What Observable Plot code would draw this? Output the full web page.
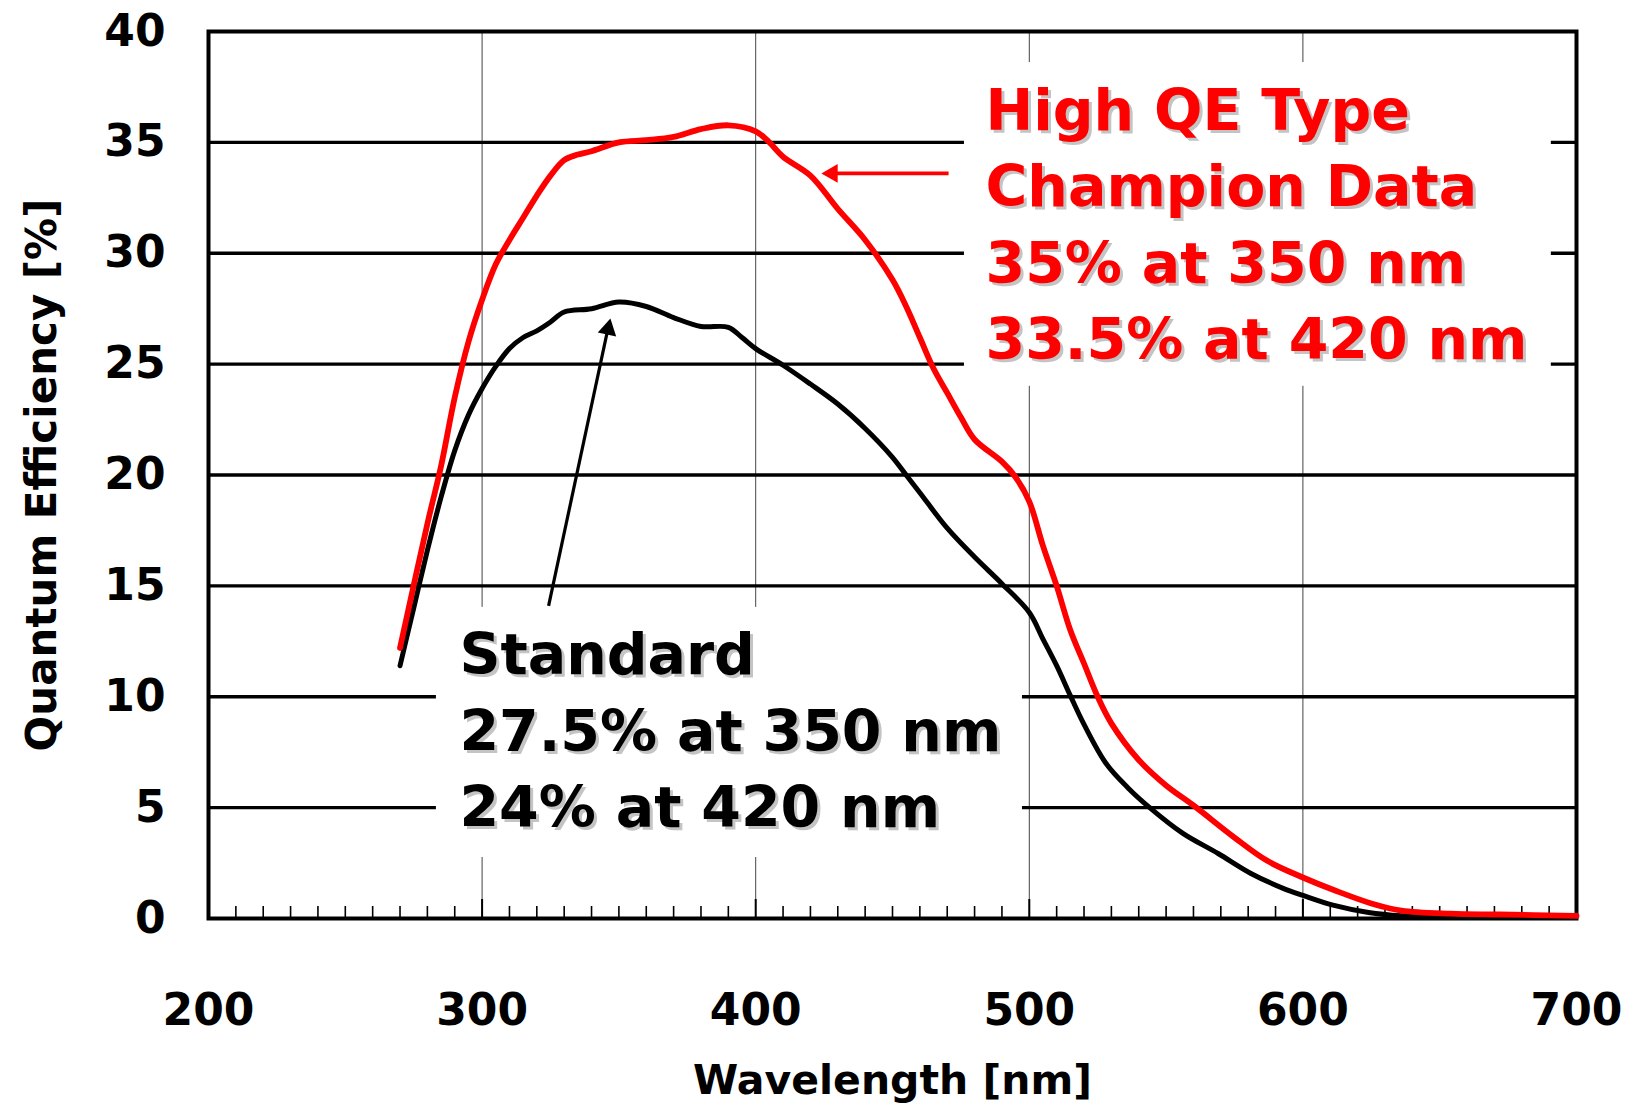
<!DOCTYPE html>
<html>
<head>
<meta charset="utf-8">
<script src="https://cdn.jsdelivr.net/npm/d3@7"></script>
<script src="https://cdn.jsdelivr.net/npm/@observablehq/plot@0.6"></script>
<style>
  body { margin: 0; background: #fff; }
  #chart svg { font-family: "DejaVu Sans", sans-serif; font-weight: bold; }
</style>
</head>
<body>
<div id="chart"></div>
<script>
// High QE Type (champion data), red curve
const hqeWavelength = [270, 280, 285, 290, 295, 300, 305, 310, 315, 320, 325, 330, 335, 340, 350, 360, 370, 380, 390, 400, 405, 410, 420, 430, 440, 450, 455, 460, 465, 470, 475, 480, 490, 495, 500, 505, 510, 515, 520, 525, 530, 540, 550, 560, 575, 587, 600, 612, 625, 636, 654, 672, 700];
const hqeQE = [12.2, 17.8, 20.4, 23.5, 26.0, 27.9, 29.5, 30.6, 31.6, 32.6, 33.5, 34.2, 34.45, 34.6, 35.0, 35.1, 35.25, 35.6, 35.77, 35.5, 35.0, 34.35, 33.5, 32.0, 30.6, 28.8, 27.6, 26.2, 24.8, 23.7, 22.6, 21.6, 20.6, 19.9, 18.8, 16.8, 15.0, 13.0, 11.5, 10.0, 8.8, 7.15, 6.0, 5.1, 3.65, 2.6, 1.85, 1.25, 0.68, 0.36, 0.22, 0.18, 0.12];

// Standard type, black curve
const stdWavelength = [270, 275, 280, 285, 290, 295, 300, 305, 310, 315, 320, 325, 330, 340, 350, 360, 370, 380, 390, 395, 400, 410, 420, 430, 440, 450, 455, 460, 470, 480, 490, 500, 505, 510, 515, 520, 528, 536, 544, 556, 569, 581, 593, 600, 611, 624, 636, 650, 680];
const stdQE = [11.4, 14.0, 16.6, 19.0, 21.1, 22.7, 23.9, 24.9, 25.7, 26.2, 26.5, 26.9, 27.35, 27.5, 27.8, 27.6, 27.1, 26.7, 26.66, 26.2, 25.7, 24.95, 24.1, 23.2, 22.1, 20.8, 20.0, 19.2, 17.6, 16.3, 15.1, 13.8, 12.6, 11.4, 10.05, 8.75, 7.0, 5.9, 5.0, 3.85, 2.93, 2.03, 1.35, 1.04, 0.6, 0.27, 0.12, 0.07, 0.04];

const xTicks = [200, 300, 400, 500, 600, 700];
const yTicks = [0, 5, 10, 15, 20, 25, 30, 35, 40];
const xGrid = [300, 400, 500, 600];
const yGrid = [5, 10, 15, 20, 25, 30, 35];
const minorTicks = d3.range(210, 700, 10).filter(d => d % 100 !== 0);

const hqeLabel = "High QE Type\nChampion Data\n35% at 350 nm\n33.5% at 420 nm";
const stdLabel = "Standard\n27.5% at 350 nm\n24% at 420 nm";
const xLabel = "Wavelength [nm]";
const yLabel = "Quantum Efficiency [%]";

const hqe = hqeWavelength.map((w, i) => ({w, qe: hqeQE[i]}));
const std = stdWavelength.map((w, i) => ({w, qe: stdQE[i]}));

// annotation backgrounds (data units)
const boxes = [
  {x1: 476.3, x2: 690.8, y1: 24.0, y2: 38.6},
  {x1: 283.3, x2: 497.5, y1: 2.75, y2: 14.03}
];
const redArrow = {x1: 470.5, y1: 33.6, x2: 426.0, y2: 33.6, tx: 424.0, ty: 33.6};
const blackArrow = {x1: 324.3, y1: 14.1, x2: 346.0, y2: 26.6, tx: 346.9, ty: 27.06};

const font = "DejaVu Sans";
const txt = {fontFamily: font, fontWeight: "bold"};
const annot = {text: d => d, textAnchor: "start", lineAnchor: "top", fontSize: 57, lineHeight: 1.34, ...txt};

const chart = Plot.plot({
  width: 1635,
  height: 1111,
  marginLeft: 208,
  marginRight: 59,
  marginTop: 31,
  marginBottom: 193,
  x: {domain: [200, 700]},
  y: {domain: [0, 40]},
  marks: [
    Plot.ruleX(xGrid, {stroke: "#444", strokeWidth: 1}),
    Plot.ruleY(yGrid, {stroke: "#000", strokeWidth: 3.4}),
    Plot.axisX({ticks: minorTicks, tickSize: -12, tickFormat: () => "", strokeWidth: 1.6, label: null}),
    Plot.axisX({ticks: xGrid, tickSize: -19, tickFormat: () => "", strokeWidth: 2, label: null}),
    Plot.rect(boxes, {x1: "x1", x2: "x2", y1: "y1", y2: "y2", fill: "white"}),
    Plot.frame({stroke: "#000", strokeWidth: 4}),
    Plot.axisY({ticks: yTicks, tickSize: 0, tickPadding: 43, fontSize: 44, ...txt, label: null}),
    Plot.axisX({ticks: xTicks, tickSize: 0, tickPadding: 75, fontSize: 44, ...txt, label: null}),
    Plot.line(std, {x: "w", y: "qe", stroke: "#000", strokeWidth: 5, curve: "catmull-rom"}),
    Plot.line(hqe, {x: "w", y: "qe", stroke: "#ff0000", strokeWidth: 5.8, curve: "catmull-rom"}),
    Plot.link([redArrow], {x1: "x1", y1: "y1", x2: "x2", y2: "y2", stroke: "#ff0000", strokeWidth: 3.6}),
    Plot.dot([redArrow], {x: "tx", y: "ty", symbol: "triangle", r: 7, fill: "#ff0000", rotate: -90, dx: 10.9}),
    Plot.link([blackArrow], {x1: "x1", y1: "y1", x2: "x2", y2: "y2", stroke: "#000", strokeWidth: 3.2}),
    Plot.dot([blackArrow], {x: "tx", y: "ty", symbol: "triangle", r: 7, fill: "#000", rotate: 12.2, dx: -2.3, dy: 10.65}),
    // text shadows
    Plot.text([hqeLabel], {x: 484, y: 38.0, ...annot, fill: "#c4c4c4", dx: 3, dy: 3}),
    Plot.text([stdLabel], {x: 291.7, y: 13.45, ...annot, fill: "#c4c4c4", dx: 3, dy: 3}),
    Plot.text([hqeLabel], {x: 484, y: 38.0, ...annot, fill: "#ff0000"}),
    Plot.text([stdLabel], {x: 291.7, y: 13.45, ...annot, fill: "#000"}),
    Plot.text([yLabel], {frameAnchor: "left", textAnchor: "middle", lineAnchor: "middle", rotate: -90, dx: -166, fontSize: 42, text: d => d, fill: "#000", ...txt}),
    Plot.text([xLabel], {frameAnchor: "bottom", textAnchor: "middle", lineAnchor: "middle", dy: 162, fontSize: 41, text: d => d, fill: "#000", ...txt})
  ]
});
document.getElementById("chart").appendChild(chart);
</script>
</body>
</html>
